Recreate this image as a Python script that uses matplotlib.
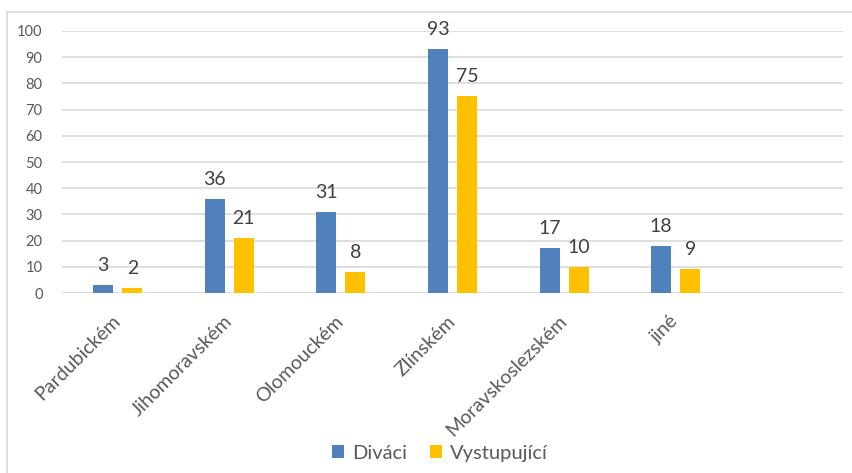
import numpy as np
import matplotlib.pyplot as plt
from matplotlib.lines import Line2D

categories = ["Pardubickém", "Jihomoravském", "Olomouckém", "Zlínském",
              "Moravskoslezském", "jiné"]
divaci = [3, 36, 31, 93, 17, 18]
vystupujici = [2, 21, 8, 75, 10, 9]
series_names = ["Diváci", "Vystupující"]

blue = "#4f81bd"
orange = "#ffc000"

plt.rcParams['font.family'] = ['Lato', 'DejaVu Sans']

fig = plt.figure(figsize=(8.52, 4.73), dpi=100)
ax = fig.add_axes([62 / 852, 1 - 293 / 473, (843 - 62) / 852, (293 - 31) / 473])

x = np.arange(len(categories))
w = 0.18
off = 0.13
b1 = ax.bar(x - off, divaci, w, color=blue, label=series_names[0], zorder=3)
b2 = ax.bar(x + off, vystupujici, w, color=orange, label=series_names[1], zorder=3)

for bars in (b1, b2):
    ax.bar_label(bars, padding=8, fontsize=14, color="#404040")

ax.set_xlim(-0.5, len(categories) + 0.5)
ax.set_ylim(0, 100)
ax.set_yticks(np.arange(0, 101, 10))
ax.yaxis.grid(True, color="#d9d9d9", linewidth=1.2, zorder=0)
ax.set_axisbelow(True)
for s in ax.spines.values():
    s.set_visible(False)
ax.axhline(0, color="#d9d9d9", linewidth=1.2, zorder=1)

# rotated labels end slightly left of the category centre
ax.set_xticks(x - 0.055)
ax.set_xticklabels(categories, rotation=45, ha="right", rotation_mode="anchor",
                   fontsize=14, color="#595959")
ax.tick_params(axis="x", length=0, pad=14)
ax.tick_params(axis="y", length=0, pad=14, labelsize=10.5, labelcolor="#595959")

fig.legend(handles=[b1, b2], labels=series_names, loc="center",
           bbox_to_anchor=(440 / 852, 1 - 453 / 473), ncol=2, frameon=False,
           fontsize=14.5, handlelength=0.6, handleheight=0.6, handletextpad=0.4,
           columnspacing=1.1, labelcolor="#595959")

# chart frame (partly cut off at right and bottom)
fig.add_artist(Line2D([7 / 852, 7 / 852], [0, 1 - 12.5 / 473], color="#d9d9d9", linewidth=1.2))
fig.add_artist(Line2D([7 / 852, 1], [1 - 12.5 / 473, 1 - 12.5 / 473], color="#d9d9d9", linewidth=1.2))

fig.savefig("out.png", dpi=100)
